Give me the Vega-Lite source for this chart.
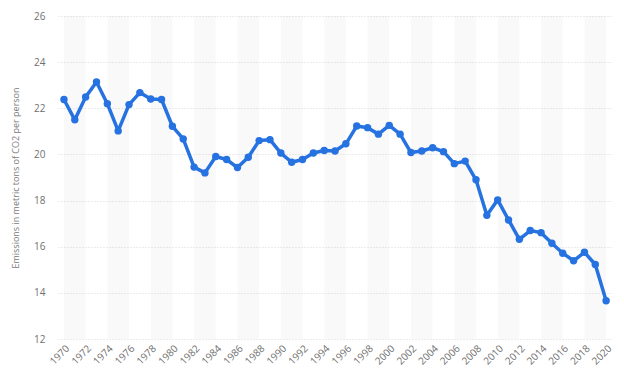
{
  "$schema": "https://vega.github.io/schema/vega-lite/v6.json",
  "width": 553,
  "height": 323,
  "autosize": {"type": "none"},
  "padding": {"left": 58, "top": 16, "right": 13, "bottom": 48},
  "background": "#ffffff",
  "config": {
    "view": {"stroke": null},
    "font": "Open Sans",
    "axis": {"labelFont": "Open Sans", "titleFont": "Open Sans"}
  },
  "datasets": {
    "emissions": [
      {"year": 1970, "value": 22.38},
      {"year": 1971, "value": 21.5},
      {"year": 1972, "value": 22.49},
      {"year": 1973, "value": 23.14},
      {"year": 1974, "value": 22.2},
      {"year": 1975, "value": 21.02},
      {"year": 1976, "value": 22.16},
      {"year": 1977, "value": 22.68},
      {"year": 1978, "value": 22.4},
      {"year": 1979, "value": 22.38},
      {"year": 1980, "value": 21.22},
      {"year": 1981, "value": 20.67},
      {"year": 1982, "value": 19.45},
      {"year": 1983, "value": 19.2},
      {"year": 1984, "value": 19.91},
      {"year": 1985, "value": 19.78},
      {"year": 1986, "value": 19.43},
      {"year": 1987, "value": 19.88},
      {"year": 1988, "value": 20.6},
      {"year": 1989, "value": 20.64},
      {"year": 1990, "value": 20.06},
      {"year": 1991, "value": 19.66},
      {"year": 1992, "value": 19.78},
      {"year": 1993, "value": 20.06},
      {"year": 1994, "value": 20.17},
      {"year": 1995, "value": 20.15},
      {"year": 1996, "value": 20.46},
      {"year": 1997, "value": 21.23},
      {"year": 1998, "value": 21.16},
      {"year": 1999, "value": 20.88},
      {"year": 2000, "value": 21.26},
      {"year": 2001, "value": 20.88},
      {"year": 2002, "value": 20.08},
      {"year": 2003, "value": 20.15},
      {"year": 2004, "value": 20.29},
      {"year": 2005, "value": 20.12},
      {"year": 2006, "value": 19.6},
      {"year": 2007, "value": 19.71},
      {"year": 2008, "value": 18.9},
      {"year": 2009, "value": 17.36},
      {"year": 2010, "value": 18.03},
      {"year": 2011, "value": 17.16},
      {"year": 2012, "value": 16.32},
      {"year": 2013, "value": 16.7},
      {"year": 2014, "value": 16.61},
      {"year": 2015, "value": 16.15},
      {"year": 2016, "value": 15.72},
      {"year": 2017, "value": 15.39},
      {"year": 2018, "value": 15.76},
      {"year": 2019, "value": 15.23},
      {"year": 2020, "value": 13.66}
    ],
    "bands": [
      {"start": 1970, "end": 1972},
      {"start": 1974, "end": 1976},
      {"start": 1978, "end": 1980},
      {"start": 1982, "end": 1984},
      {"start": 1986, "end": 1988},
      {"start": 1990, "end": 1992},
      {"start": 1994, "end": 1996},
      {"start": 1998, "end": 2000},
      {"start": 2002, "end": 2004},
      {"start": 2006, "end": 2008},
      {"start": 2010, "end": 2012},
      {"start": 2014, "end": 2016},
      {"start": 2018, "end": 2020}
    ]
  },
  "layer": [
    {
      "data": {"name": "bands"},
      "mark": {"type": "rect", "color": "#000000", "opacity": 0.022},
      "encoding": {
        "x": {
          "field": "start",
          "type": "quantitative",
          "scale": {"domain": [1969.45, 2020.45], "nice": false, "zero": false},
          "axis": {
            "title": null,
            "values": [1970, 1972, 1974, 1976, 1978, 1980, 1982, 1984, 1986, 1988, 1990, 1992, 1994, 1996, 1998, 2000, 2002, 2004, 2006, 2008, 2010, 2012, 2014, 2016, 2018, 2020],
            "format": "d",
            "labelAngle": -45,
            "labelAlign": "right",
            "labelBaseline": "top",
            "labelPadding": 4,
            "labelFontSize": 10,
            "labelColor": "#6f6f6f",
            "labelOverlap": false,
            "labelFlush": false,
            "labelBound": false,
            "domain": false,
            "ticks": false,
            "grid": false
          }
        },
        "x2": {"field": "end"}
      }
    },
    {
      "data": {"name": "emissions"},
      "mark": {
        "type": "line",
        "color": "#2572e0",
        "strokeWidth": 3.5,
        "strokeJoin": "round",
        "point": {"filled": true, "size": 55, "color": "#2572e0"}
      },
      "encoding": {
        "x": {
          "field": "year",
          "type": "quantitative",
          "scale": {"domain": [1969.45, 2020.45], "nice": false, "zero": false},
          "axis": {
            "title": null,
            "values": [1970, 1972, 1974, 1976, 1978, 1980, 1982, 1984, 1986, 1988, 1990, 1992, 1994, 1996, 1998, 2000, 2002, 2004, 2006, 2008, 2010, 2012, 2014, 2016, 2018, 2020],
            "format": "d",
            "labelAngle": -45,
            "labelAlign": "right",
            "labelBaseline": "top",
            "labelPadding": 4,
            "labelFontSize": 10,
            "labelColor": "#6f6f6f",
            "labelOverlap": false,
            "labelFlush": false,
            "labelBound": false,
            "domain": false,
            "ticks": false,
            "grid": false
          }
        },
        "y": {
          "field": "value",
          "type": "quantitative",
          "scale": {"domain": [12, 26], "nice": false, "zero": false},
          "axis": {
            "title": "Emissions in metric tons of CO2 per person",
            "titleFontSize": 9,
            "titleFontWeight": "normal",
            "titleColor": "#7a7a7a",
            "titlePadding": 13,
            "values": [12, 14, 16, 18, 20, 22, 24, 26],
            "labelFontSize": 10,
            "labelColor": "#6f6f6f",
            "labelPadding": 13,
            "domain": false,
            "ticks": false,
            "grid": true,
            "gridColor": "#d9d9d9",
            "gridDash": [1, 2],
            "gridWidth": 1
          }
        }
      }
    }
  ]
}
